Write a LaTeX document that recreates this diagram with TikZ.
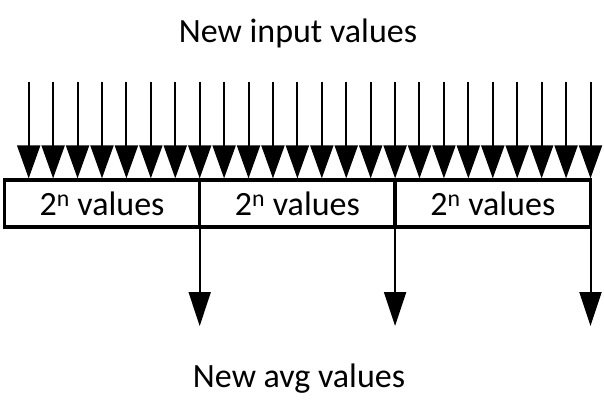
\documentclass[tikz,border=0pt]{standalone}
\usepackage{fontspec}
\setmainfont{Carlito}
\usetikzlibrary{arrows.meta,positioning}

\tikzset{
  inarrow/.style={line width=2pt, shorten >=1.6pt, -{Triangle[length=33pt,width=23pt]}},
  outarrow/.style={line width=2pt, shorten <=1.6pt, -{Triangle[length=34pt,width=22pt]}},
  block/.style={draw, line width=3.3pt, outer sep=0pt, minimum width=195.4pt, minimum height=47pt,
    inner sep=0pt, font=\fontsize{34}{40}\selectfont},
  title/.style={anchor=base, font=\fontsize{34}{40}\selectfont}
}

\begin{document}
\begin{tikzpicture}[x=1pt,y=-1pt]
  \useasboundingbox (0,0) rectangle (604,414);
  \node[title] (intitle) at (298,42.3) {New input values};
  \node[block] (blk1) at (102,203.5) {2\textsuperscript{n} values};
  \node[block, right=0pt of blk1] (blk2) {2\textsuperscript{n} values};
  \node[block, right=0pt of blk2] (blk3) {2\textsuperscript{n} values};
  \node[title] (outtitle) at (299,387.3) {New avg values};
  % one arrow per incoming value
  \foreach \b in {1,2,3}{
    \foreach \j in {0,...,7}{
      \coordinate (in\b\j) at ([xshift=-\j*24.43pt, yshift=98.3pt]blk\b.north east);
      \draw[inarrow] (in\b\j) -- (in\b\j |- blk\b.north);
    }
    \coordinate (out\b) at ([yshift=-99pt]blk\b.south east);
    \draw[outarrow] (blk\b.south east) -- (out\b);
  }
\end{tikzpicture}
\end{document}
